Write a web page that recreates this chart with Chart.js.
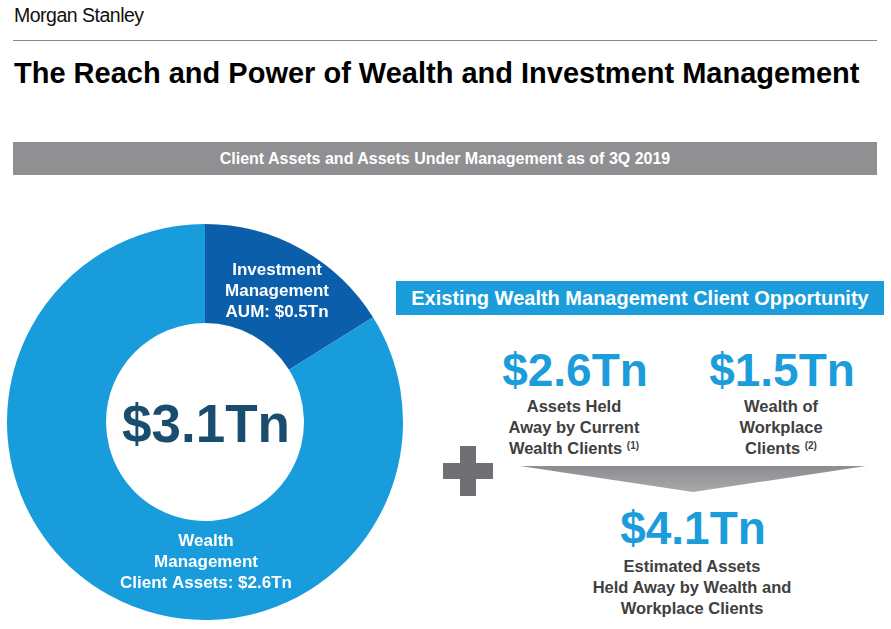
<!DOCTYPE html>
<html>
<head>
<meta charset="utf-8">
<script src="https://cdn.jsdelivr.net/npm/chart.js@4"></script>
<style>
  body { margin: 0; width: 891px; height: 629px; background: #fff; position: relative; overflow: hidden;
         font-family: "Liberation Sans", Arial, sans-serif; }
  .abs { position: absolute; }
  #logo { left: 14px; top: 4px; font-size: 19.5px; color: #111; letter-spacing: -0.5px; }
  #rule { left: 13px; top: 40px; width: 864px; height: 1px; background: #8a8a8a; }
  #title { left: 14px; top: 57px; font-size: 29px; font-weight: bold; color: #000; white-space: nowrap; }
  #band { left: 13px; top: 142px; width: 864px; height: 33px; background: #909093; color: #fff;
          font-weight: bold; font-size: 16px; text-align: center; line-height: 33px; }
  #blue { left: 396px; top: 281px; width: 488px; height: 34px; background: #1b9ddb; color: #fff;
          font-weight: bold; font-size: 20px; text-align: center; line-height: 34px; white-space: nowrap; }
  .big { font-size: 46px; font-weight: bold; color: #1b9ddb; text-align: center; width: 220px; line-height: 50px; }
  .sub { font-size: 16.5px; font-weight: bold; color: #404040; text-align: center; width: 260px; line-height: 21px; }
  sup { font-size: 10px; vertical-align: 5px; line-height: 0; }
  #plus { left: 443px; top: 446px; width: 50px; height: 50px; }
  #plus div { position: absolute; background: #6e6f72; }
  #wrap { left: 7px; top: 224px; width: 396px; height: 396px; }
</style>
</head>
<body>
<div id="logo" class="abs">Morgan Stanley</div>
<div id="rule" class="abs"></div>
<div id="title" class="abs">The Reach and Power of Wealth and Investment Management</div>
<div id="band" class="abs">Client Assets and Assets Under Management as of 3Q 2019</div>

<div id="wrap" class="abs"><canvas id="donut"></canvas></div>

<div id="blue" class="abs">Existing Wealth Management Client Opportunity</div>

<div class="abs big" style="left:465px; top:345px;">$2.6Tn</div>
<div class="abs sub" style="left:444px; top:396px;">Assets Held<br>Away by Current<br>Wealth Clients <sup>(1)</sup></div>
<div class="abs big" style="left:672px; top:345px;">$1.5Tn</div>
<div class="abs sub" style="left:651px; top:396px;">Wealth of<br>Workplace<br>Clients <sup>(2)</sup></div>

<div id="plus" class="abs">
  <div style="left:17px; top:0; width:16px; height:50px;"></div>
  <div style="left:0; top:17px; width:50px; height:16px;"></div>
</div>
<svg class="abs" style="left:518px; top:464px;" width="350" height="30">
  <defs>
    <linearGradient id="g" x1="0" y1="0" x2="0" y2="1">
      <stop offset="0" stop-color="#8b8c8f"/>
      <stop offset="1" stop-color="#a9aaac"/>
    </linearGradient>
  </defs>
  <polygon points="2,2 348,2 175,28" fill="url(#g)"/>
</svg>

<div class="abs big" style="left:583px; top:503px;">$4.1Tn</div>
<div class="abs sub" style="left:562px; top:556px;">Estimated Assets<br>Held Away by Wealth and<br>Workplace Clients</div>

<script>
const segments = ['Investment Management AUM', 'Wealth Management Client Assets'];
const assetsTn = [0.5, 2.6];
const sliceLabels = [
  ['Investment', 'Management', 'AUM: $0.5Tn'],
  ['Wealth', 'Management', 'Client Assets: $2.6Tn']
];
const centerLabel = '$3.1Tn';
const sliceColors = ['#0b5ea9', '#189cdb'];

const labelPlugin = {
  id: 'labels',
  afterDatasetsDraw(chart) {
    const ctx = chart.ctx;
    const arcs = chart.getDatasetMeta(0).data;
    ctx.save();
    ctx.textAlign = 'center';
    ctx.textBaseline = 'middle';
    ctx.fillStyle = '#fff';
    ctx.font = 'bold 17px "Liberation Sans", Arial, sans-serif';
    arcs.forEach((arc, i) => {
      let x, y;
      if (i === 0) {
        const p = arc.tooltipPosition();
        x = p.x; y = p.y - 1;
      } else {
        // wealth label sits straight below the hole
        const mid = (arc.innerRadius + arc.outerRadius) / 2;
        x = arc.x + 1; y = arc.y + mid - 8;
      }
      sliceLabels[i].forEach((line, j) => {
        ctx.fillText(line, x, y + (j - 1) * 21);
      });
    });
    const a = arcs[0];
    ctx.fillStyle = '#1a4d6d';
    ctx.font = 'bold 53px "Liberation Sans", Arial, sans-serif';
    ctx.fillText(centerLabel, a.x + 1, a.y + 5);
    ctx.restore();
  }
};

new Chart(document.getElementById('donut'), {
  type: 'doughnut',
  data: {
    labels: segments,
    datasets: [{
      data: assetsTn,
      backgroundColor: sliceColors,
      borderWidth: 0
    }]
  },
  options: {
    responsive: true,
    maintainAspectRatio: false,
    animation: false,
    cutout: '50%',
    plugins: {
      legend: { display: false },
      tooltip: { enabled: false }
    }
  },
  plugins: [labelPlugin]
});
</script>
</body>
</html>
